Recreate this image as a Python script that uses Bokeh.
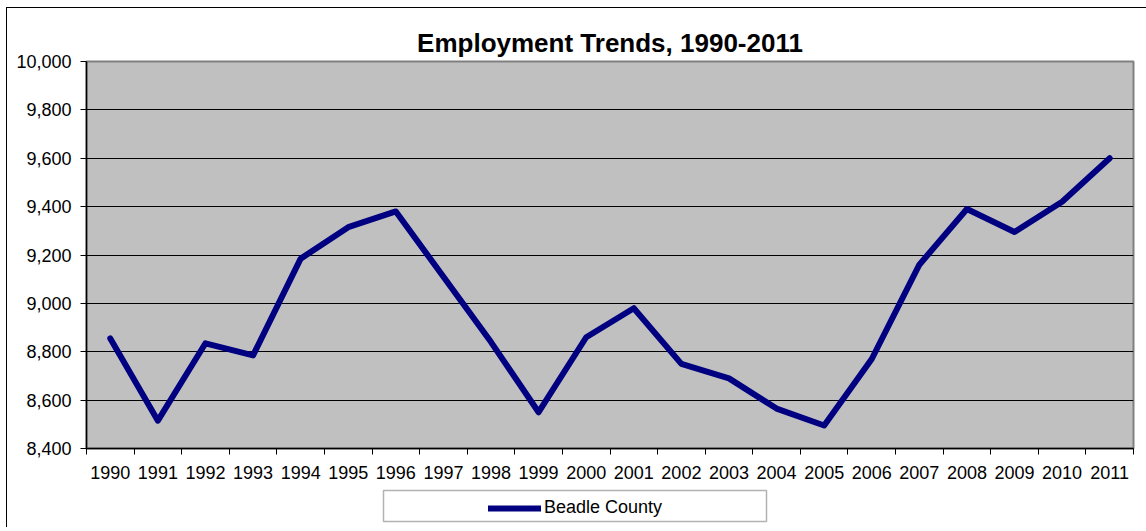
from bokeh.plotting import figure
from bokeh.layouts import column
from bokeh.models import (Range1d, FixedTicker, NumeralTickFormatter, Legend,
                          LegendItem, BoxAnnotation)
from bokeh.embed import file_html
from bokeh.resources import INLINE

# ---- data ----
years = [1990, 1991, 1992, 1993, 1994, 1995, 1996, 1997, 1998, 1999, 2000,
         2001, 2002, 2003, 2004, 2005, 2006, 2007, 2008, 2009, 2010, 2011]
employment = [8855, 8515, 8835, 8785, 9185, 9315, 9380, 9110, 8840, 8550, 8860,
              8980, 8750, 8690, 8565, 8495, 8770, 9160, 9390, 9295, 9420, 9600]
y_ticks = [8400, 8600, 8800, 9000, 9200, 9400, 9600, 9800, 10000]
title_text = "Employment Trends, 1990-2011"
series_name = "Beadle County"

FONT = "Liberation Sans"
LINE_COLOR = "#000080"

p = figure(frame_width=1046, frame_height=386, output_backend="svg",
           toolbar_location=None,
           x_range=Range1d(years[0] - 0.5, years[-1] + 0.5),
           y_range=Range1d(y_ticks[0], y_ticks[-1]),
           min_border_left=79, min_border_right=14, min_border_top=53,
           min_border_bottom=40,
           background_fill_color="#C0C0C0", border_fill_color="white")
# outer chart border (left and top edges are visible in the reference)
p.styles = {"margin-left": "6px", "margin-top": "7px",
            "border-left": "1px solid black", "border-top": "1px solid black"}

p.outline_line_color = "#808080"
p.outline_line_width = 2

# title
p.title.text = title_text
p.title.text_font = FONT
p.title.text_font_size = "26px"
p.title.text_font_style = "bold"
p.title.text_color = "black"
p.title.align = "center"
p.title.standoff = 8
p.title.offset = -6

# grid
p.xgrid.visible = False
p.ygrid.ticker = FixedTicker(ticks=y_ticks)
p.ygrid.grid_line_color = "black"
p.ygrid.grid_line_width = 1

# y axis
p.yaxis.ticker = FixedTicker(ticks=y_ticks)
p.yaxis.formatter = NumeralTickFormatter(format="0,0")
p.yaxis.major_label_text_font = FONT
p.yaxis.major_label_text_font_size = "18px"
p.yaxis.major_label_text_color = "black"
p.yaxis.major_tick_out = 6
p.yaxis.major_tick_in = 0
p.yaxis.major_tick_line_color = "black"
p.yaxis.minor_tick_line_color = None
p.yaxis.axis_line_color = "black"
p.yaxis.axis_line_width = 1.5
p.yaxis.major_label_standoff = 9

# x axis: labels at year centres, tick marks between categories
bounds = [y - 0.5 for y in years] + [years[-1] + 0.5]
p.xaxis.ticker = FixedTicker(ticks=years, minor_ticks=bounds)
p.xaxis.major_label_overrides = {y: str(y) for y in years}
p.xaxis.major_tick_line_color = None
p.xaxis.major_tick_out = 0
p.xaxis.major_tick_in = 0
p.xaxis.minor_tick_out = 6
p.xaxis.minor_tick_in = 0
p.xaxis.minor_tick_line_color = "black"
p.xaxis.axis_line_color = "black"
p.xaxis.axis_line_width = 1.5
p.xaxis.major_label_text_font = FONT
p.xaxis.major_label_text_font_size = "18px"
p.xaxis.major_label_text_color = "black"
p.xaxis.major_label_standoff = 11

# series
r = p.line(years, employment, line_color=LINE_COLOR, line_width=6,
           line_join="round", line_cap="round")

# ---- legend strip below the chart (its frame is aligned with the chart's) ----
p2 = figure(width=1139, height=40, output_backend="svg", toolbar_location=None,
            x_range=Range1d(0, 1), y_range=Range1d(0, 1),
            x_axis_location=None, y_axis_location=None, min_border=0,
            background_fill_color="white", border_fill_color="white")
p2.outline_line_color = None
p2.grid.visible = False
p2.styles = {"margin-left": "6px", "border-left": "1px solid black"}

# legend proxy: same style as the series, one point only (draws nothing itself)
proxy = p2.line(x=years[:1], y=employment[:1], line_color=LINE_COLOR,
                line_width=6, line_cap="round")

legend_box = BoxAnnotation(left=297, right=680, bottom=6, top=37,
                           left_units="screen", right_units="screen",
                           top_units="screen", bottom_units="screen",
                           fill_color=None, line_color="black", line_width=1.5)
p2.add_layout(legend_box)

legend = Legend(items=[LegendItem(label=series_name, renderers=[proxy])],
                location=(402, 9), orientation="horizontal",
                glyph_width=53, glyph_height=20, label_standoff=3, padding=2,
                margin=0, border_line_color=None, background_fill_alpha=0,
                label_text_font=FONT, label_text_font_size="18px",
                label_text_color="black")
p2.add_layout(legend)

layout = column(p, p2, spacing=0)

open("out.html", "w").write(file_html(layout, INLINE))
